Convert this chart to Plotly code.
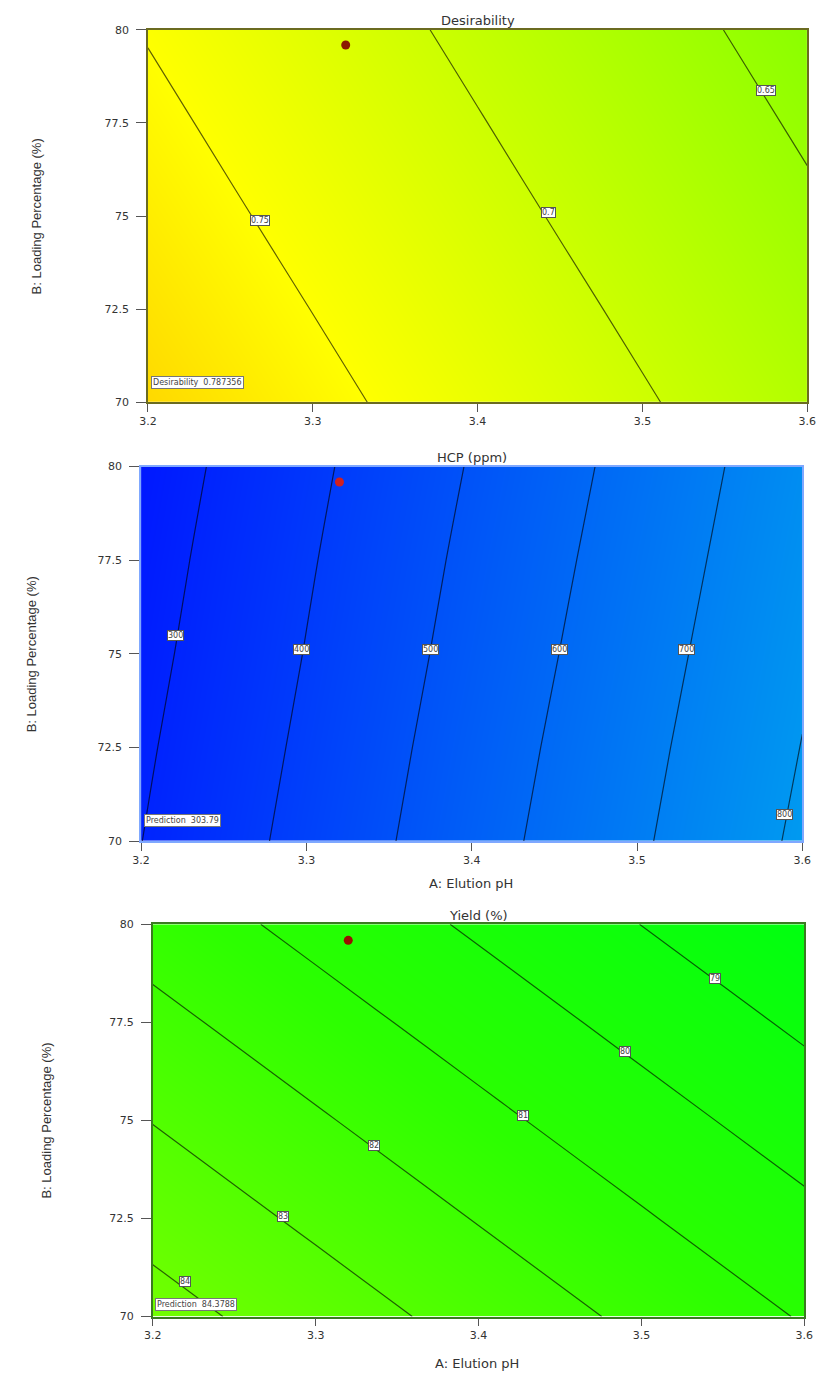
import plotly.graph_objects as go

# ---------------- data ----------------
ph = [3.2, 3.3, 3.4, 3.5, 3.6]            # A: Elution pH
loading = [70, 72.5, 75, 77.5, 80]        # B: Loading Percentage (%)

# rows follow `loading`, columns follow `ph`
desirability = [
    [0.7874, 0.7593, 0.7312, 0.7031, 0.6750],
    [0.7776, 0.7495, 0.7214, 0.6933, 0.6652],
    [0.7677, 0.7396, 0.7115, 0.6834, 0.6553],
    [0.7579, 0.7298, 0.7017, 0.6736, 0.6455],
    [0.7481, 0.7200, 0.6919, 0.6638, 0.6357],
]
hcp = [
    [299, 429, 560, 687, 816],
    [287, 416, 547, 674, 802],
    [274, 403, 533, 660, 788],
    [262, 391, 520, 646, 774],
    [249, 378, 506, 632, 760],
]
yield_pct = [
    [84.37, 83.51, 82.65, 81.79, 80.93],
    [83.67, 82.81, 81.95, 81.09, 80.23],
    [82.97, 82.11, 81.25, 80.39, 79.53],
    [82.27, 81.41, 80.55, 79.69, 78.83],
    [81.57, 80.71, 79.85, 78.99, 78.13],
]

opt_ph = [3.32]
opt_loading = [79.59]

x_ticks = [3.2, 3.3, 3.4, 3.5, 3.6]
x_ticktext = ["3.2", "3.3", "3.4", "3.5", "3.6"]
y_ticks = [70, 72.5, 75, 77.5, 80]
y_ticktext = ["70", "72.5", "75", "77.5", "80"]

titles = ["Desirability", "HCP (ppm)", "Yield (%)"]
info_text = ["Desirability  0.787356", "Prediction  303.79", "Prediction  84.3788"]

d_labels = ["0.75", "0.7", "0.65"]
d_label_ph = [3.268, 3.443, 3.575]
d_label_ld = [74.88, 75.10, 78.38]

h_labels = ["300", "400", "500", "600", "700", "800"]
h_label_ph = [3.221, 3.297, 3.375, 3.453, 3.530, 3.589]
h_label_ld = [75.48, 75.11, 75.11, 75.11, 75.11, 70.72]

y_labels = ["84", "83", "82", "81", "80", "79"]
y_label_ph = [3.220, 3.280, 3.336, 3.427, 3.490, 3.545]
y_label_ld = [70.88, 72.56, 74.37, 75.13, 76.75, 78.62]

# ---------------- layout geometry ----------------
W, H = 827, 1378
# plot boxes in pixels: (left, right, top, bottom)
boxes = [(142, 816, 24, 400), (135, 811, 465, 843), (147, 813, 927, 1323)]


def px_x(p):
    return p / W


def px_y(p):
    return 1 - p / H


FONT = "DejaVu Sans, Liberation Sans, Arial, sans-serif"
NARROW = "Liberation Sans Narrow, Liberation Sans, Arial, sans-serif"

dx_scale = [[0, "#0000FF"], [0.25, "#00FFFF"], [0.5, "#00FF00"],
            [0.75, "#FFFF00"], [1, "#FF0000"]]
hcp_scale = [[0, "#0018FF"], [1, "#009AF0"]]
yield_scale = [[0, "#00FF10"], [0.5, "#2CFF00"], [1, "#72FF00"]]

fig = go.Figure()

panels = [
    dict(z=desirability, cs=dx_scale, zmin=0, zmax=1,
         start=0.65, end=0.75, size=0.05, dot="#8B1A00", frame="#6b6b20",
         labs=(d_labels, d_label_ph, d_label_ld)),
    dict(z=hcp, cs=hcp_scale, zmin=249, zmax=816,
         start=300, end=800, size=100, dot="#D02020", frame="#7fa8ff",
         labs=(h_labels, h_label_ph, h_label_ld)),
    dict(z=yield_pct, cs=yield_scale, zmin=78.13, zmax=84.37,
         start=79, end=84, size=1, dot="#9A1000", frame="#3a7a20",
         labs=(y_labels, y_label_ph, y_label_ld)),
]

annotations = []
for i, p in enumerate(panels):
    n = "" if i == 0 else str(i + 1)
    xa, ya = "x" + n, "y" + n
    fig.add_trace(go.Contour(
        x=ph, y=loading, z=p["z"], xaxis=xa, yaxis=ya,
        colorscale=p["cs"], zmin=p["zmin"], zmax=p["zmax"],
        showscale=False, hoverinfo="skip",
        contours=dict(coloring="heatmap", start=p["start"], end=p["end"],
                      size=p["size"], showlabels=False),
        line=dict(color="rgba(0,0,0,0.62)", width=1.2),
    ))
    fig.add_trace(go.Scatter(
        x=opt_ph, y=opt_loading, xaxis=xa, yaxis=ya, mode="markers",
        marker=dict(size=9, color=p["dot"], line=dict(width=0)),
        showlegend=False, hoverinfo="skip",
    ))
    l, r, t, b = boxes[i]
    axis_common = dict(showgrid=False, zeroline=False, showline=True, mirror=True,
                       linecolor=p["frame"], linewidth=1.5, ticks="outside",
                       tickcolor="#555", tickfont=dict(family=FONT, size=11, color="#333"))
    fig.update_layout({
        "xaxis" + n: dict(domain=[px_x(l), px_x(r)], range=[3.2, 3.6], anchor=ya,
                          tickvals=x_ticks, ticktext=x_ticktext, ticklen=8,
                          **axis_common),
        "yaxis" + n: dict(domain=[px_y(b), px_y(t)], range=[70, 80], anchor=xa,
                          tickvals=y_ticks, ticktext=y_ticktext, ticklen=10,
                          ticklabelstandoff=5, **axis_common),
    })
    # title
    annotations.append(dict(text=titles[i], xref="paper", yref="paper",
                            x=px_x((l + r) / 2), y=px_y(t - 9), xanchor="center",
                            yanchor="middle", showarrow=False,
                            font=dict(family=FONT, size=13, color="#333")))
    # contour labels
    texts, lx, ly = p["labs"]
    for tx, xx, yy in zip(texts, lx, ly):
        annotations.append(dict(text=tx, xref=xa, yref=ya, x=xx, y=yy,
                                showarrow=False, bgcolor="white",
                                bordercolor="#555", borderwidth=1, borderpad=0,
                                font=dict(family=FONT, size=8, color="#444")))
    # info box
    annotations.append(dict(text=info_text[i], xref=xa + " domain", yref=ya + " domain",
                            x=0.004, y=[0.035, 0.037, 0.015][i], xanchor="left",
                            yanchor="bottom", showarrow=False, bgcolor="white",
                            bordercolor="#777", borderwidth=1, borderpad=1,
                            font=dict(family=FONT, size=8, color="#444")))
    # y-axis title
    annotations.append(dict(text="B: Loading Percentage (%)", xref="paper", yref="paper",
                            x=px_x([28, 23, 38][i]), y=px_y((t + b) / 2),
                            textangle=-90, showarrow=False, xanchor="center",
                            yanchor="middle",
                            font=dict(family=NARROW, size=13, color="#333")))

# x-axis titles (panels 2 and 3)
for cx, cy in [(472, 886), (478, 1370)]:
    annotations.append(dict(text="A: Elution pH", xref="paper", yref="paper",
                            x=px_x(cx), y=px_y(cy), showarrow=False,
                            xanchor="center", yanchor="middle",
                            font=dict(family=FONT, size=13, color="#333")))

fig.update_layout(width=W, height=H, autosize=False,
                  margin=dict(l=0, r=0, t=0, b=0),
                  paper_bgcolor="white", plot_bgcolor="white",
                  showlegend=False, annotations=annotations)

fig.write_html("out.html")
